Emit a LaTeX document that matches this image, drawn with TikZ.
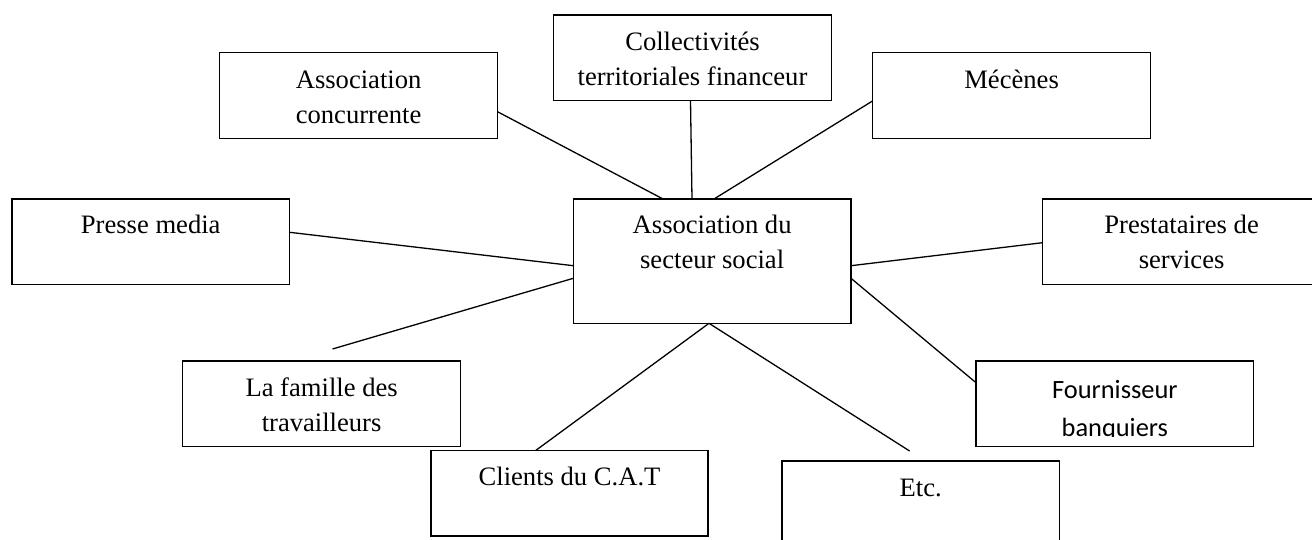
\documentclass[tikz,border=0pt]{standalone}
\usepackage{fontspec}
\setmainfont{Liberation Serif}
\newfontfamily\calib{Carlito}
\usetikzlibrary{calc}
\tikzset{
  box/.style={draw, line width=0.75pt, rectangle, inner sep=0pt, outer sep=0pt, anchor=north west},
  lbl/.style={anchor=north, inner sep=0pt, align=center, font=\fontsize{13.3}{17.5}\selectfont},
  lblsans/.style={anchor=north, inner sep=0pt, align=center, font=\calib\fontsize{13.2}{19}\selectfont},
  link/.style={line width=0.65pt}
}
\newcommand\st{\rule{0pt}{10pt}}
\begin{document}
\begin{tikzpicture}[x=0.5pt,y=-0.5pt]
\clip (0,0) rectangle (1312,540);
\fill[white] (0,0) rectangle (1312,540);
% boxes
\node[box, minimum width=277.8*0.5pt, minimum height=86*0.5pt] (ac) at (219.7,52.3) {};
\node[box, minimum width=278*0.5pt, minimum height=85.7*0.5pt] (co) at (553.5,15) {};
\node[box, minimum width=278.2*0.5pt, minimum height=86*0.5pt] (me) at (872.5,52.3) {};
\node[box, minimum width=277.8*0.5pt, minimum height=85.3*0.5pt] (pm) at (11.8,199) {};
\node[box, minimum width=277.7*0.5pt, minimum height=124.3*0.5pt] (ce) at (573.3,199) {};
\node[box, minimum width=278*0.5pt, minimum height=85.3*0.5pt] (pr) at (1042.6,199) {};
\node[box, minimum width=277.8*0.5pt, minimum height=85.7*0.5pt] (fa) at (182.7,361) {};
\node[box, minimum width=277*0.5pt, minimum height=85.3*0.5pt] (cl) at (431,450.7) {};
\node[box, minimum width=277.5*0.5pt, minimum height=120*0.5pt] (et) at (782,461) {};
\node[box, minimum width=277.7*0.5pt, minimum height=85.7*0.5pt] (fo) at (976,361) {};
% labels
\node[lbl] (tac) at ($(ac.north)+(0,16)$) {\st Association\\concurrente};
\node[lbl] (tco) at ($(co.north)+(0,15)$) {\st Collectivités\\territoriales financeur};
\node[lbl] (tme) at ($(me.north)+(0,16)$) {\st Mécènes};
\node[lbl] (tpm) at ($(pm.north)+(0,14.5)$) {\st Presse media};
\node[lbl] (tce) at ($(ce.north)+(0,14.5)$) {\st Association du\\secteur social};
\node[lbl] (tpr) at ($(pr.north)+(0,14.5)$) {\st Prestataires de\\services};
\node[lbl] (tfa) at ($(fa.north)+(0,15.5)$) {\st La famille des\\travailleurs};
\node[lbl] (tcl) at ($(cl.north)+(0,14.5)$) {\st Clients du C.A.T};
\node[lbl] (tet) at ($(et.north)+(0,15)$) {\st Etc.};
\begin{scope}
\clip (fo.north west) rectangle ($(fo.south east)+(0,-10.7)$);
\node[lblsans] (tfo) at ($(fo.north)+(0,16.7)$) {\st Fournisseur\\banquiers};
\end{scope}
% free ends
\coordinate (fe) at (332.5,349);
\coordinate (ee) at (909.6,451);
% connectors
\draw[link] ($(ac.south east)+(0,-26.6)$) -- ($(ce.north west)+(89.7,0)$);
\draw[link] ($(co.south west)+(137,0)$) -- ($(ce.north west)+(118.7,0)$);
\draw[link] ($(me.north west)+(0,48.7)$) -- ($(ce.north west)+(140.7,0)$);
\draw[link] ($(pm.north east)+(0,33.3)$) -- ($(ce.north west)+(0,66.7)$);
\draw[link] ($(pr.north west)+(0,43.7)$) -- ($(ce.north east)+(0,66.7)$);
\draw[link] ($(ce.north west)+(0,79.3)$) -- (fe);
\draw[link] ($(ce.north east)+(0,79.3)$) -- ($(fo.north west)+(0,21.7)$);
\draw[link] ($(ce.south west)+(135.7,0)$) -- ($(cl.north west)+(104.4,0)$);
\draw[link] ($(ce.south west)+(135.7,0)$) -- (ee);
\end{tikzpicture}
\end{document}
